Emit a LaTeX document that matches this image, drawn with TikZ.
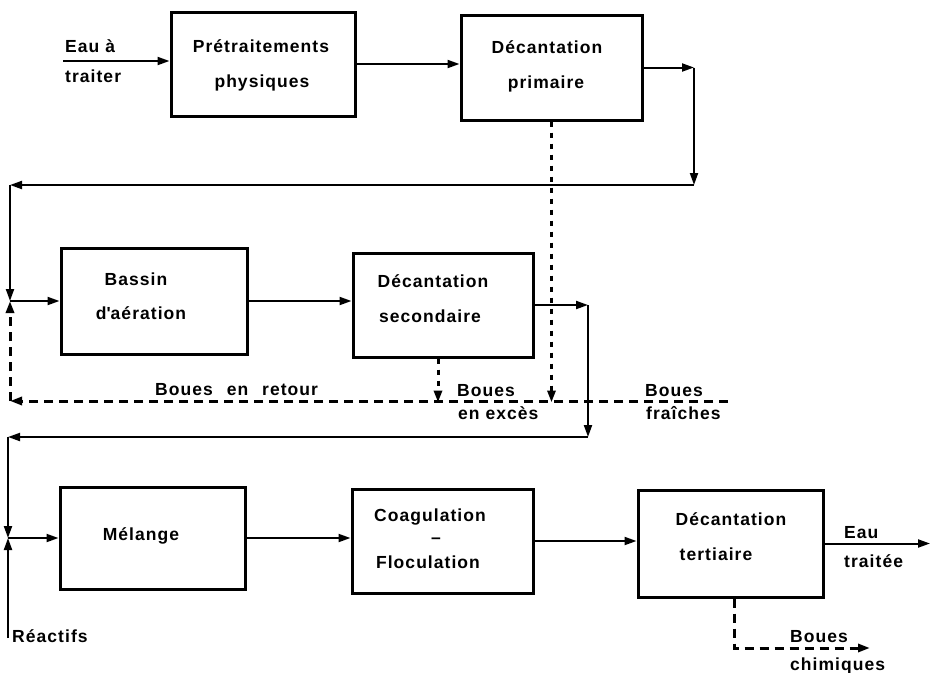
\documentclass[tikz,border=0pt]{standalone}
\usepackage{fontspec}
\setmainfont{Liberation Sans}[LetterSpace=6]
\usetikzlibrary{arrows.meta}
\begin{document}
\begin{tikzpicture}[x=1pt,y=-1pt,
  box/.style={draw,line width=3pt,inner sep=0pt},
  txt/.style={font=\fontsize{17.5}{20}\selectfont\bfseries,inner sep=0pt,anchor=base},
  txtl/.style={txt,anchor=base west},
  tip/.style={-{Triangle[length=12pt,width=8pt]}},
  arr/.style={line width=2pt,tip},
  dsh/.style={line width=3pt,dash pattern=on 9pt off 6pt},
  dsharr/.style={dsh,tip},
  dotarr/.style={line width=3pt,dash pattern=on 5pt off 6pt,tip}]
\useasboundingbox (0,0) rectangle (931,672);
% boxes
\node[box,minimum width=184pt,minimum height=104pt] (B1) at (263,64) {};
\node[box,minimum width=181pt,minimum height=105pt] (B2) at (551.5,67.5) {};
\node[box,minimum width=186pt,minimum height=106pt] (B3) at (154,301) {};
\node[box,minimum width=180pt,minimum height=104pt] (B4) at (443,305) {};
\node[box,minimum width=185pt,minimum height=102pt] (B5) at (152.5,538) {};
\node[box,minimum width=181pt,minimum height=104pt] (B6) at (442.5,541) {};
\node[box,minimum width=185pt,minimum height=107pt] (B7) at (730.5,543.5) {};
% box texts
\node[txt] (p1) at (261,52) {Prétraitements};
\node[txt] (p2) at (262,87) {physiques};
\node[txt] (q1) at (547,53) {Décantation};
\node[txt] (q2) at (546,88) {primaire};
\node[txt] (a1) at (136,285) {Bassin};
\node[txt] (a2) at (141,319) {d\textquotesingle aération};
\node[txt] (s1) at (433,287) {Décantation};
\node[txt] (s2) at (430,322) {secondaire};
\node[txt] (m1) at (141,540) {Mélange};
\node[txt] (k1) at (430,521) {Coagulation};
\node[txt] (k2) at (436,543) {–};
\node[txt] (k3) at (428,568) {Floculation};
\node[txt] (u1) at (731,525) {Décantation};
\node[txt] (u2) at (716,560) {tertiaire};
% free labels
\node[txtl] (t1) at (65,52) {Eau à};
\node[txtl] (t2) at (65,82) {traiter};
\node[txtl] (rt) at (155,395) {Boues\hspace{8pt} en\hspace{8pt} retour};
\node[txtl] (x1) at (457,396) {Boues};
\node[txtl] (x2) at (458,419) {en excès};
\node[txtl] (f1) at (645,396) {Boues};
\node[txtl] (f2) at (646,419) {fraîches};
\node[txtl] (w1) at (844,538) {Eau};
\node[txtl] (w2) at (844,567) {traitée};
\node[txtl] (h1) at (790,642) {Boues};
\node[txtl] (h2) at (790,670) {chimiques};
\node[txtl] (re) at (12,642) {Réactifs};
% coordinates
\coordinate (in1) at (63,61);
\coordinate (c1) at (694,67.5);
\coordinate (c2) at (694,185);
\coordinate (c3) at (10,185);
\coordinate (j1) at (10,301);
\coordinate (d1) at (10,401);
\coordinate (d2) at (728,401);
\coordinate (c4) at (588,305);
\coordinate (c5) at (588,437);
\coordinate (c6) at (8,437);
\coordinate (j2) at (8,538);
\coordinate (r1) at (8,638);
\coordinate (o1) at (930,543.5);
\coordinate (g1) at (734,648);
\coordinate (g2) at (870,648);
% row 1
\draw[arr] (in1) -- (in1 -| B1.west);
\draw[arr] (B1.east) -- (B1.east -| B2.west);
\draw[arr] (B2.east) -- (c1);
\draw[arr] (c1) -- (c2);
\draw[arr] (c2) -- (c3);
\draw[arr] (c3) -- (j1);
% row 2
\draw[arr] (j1) -- (j1 -| B3.west);
\draw[arr] (B3.east) -- (B3.east -| B4.west);
\draw[arr] (B4.east) -- (c4);
\draw[arr] (c4) -- (c5);
\draw[arr] (c5) -- (c6);
\draw[arr] (c6) -- (j2);
% sludge
\draw[dsharr] (d2) -- (d1);
\draw[dsharr] (d1) -- (j1);
\draw[dotarr] (B2.south) -- ([yshift=-1.5pt]B2.south |- d1);
\draw[dotarr] ([xshift=-5pt]B4.south) -- ([xshift=-5pt,yshift=-1.5pt]B4.south |- d1);
% row 3
\draw[arr] (j2) -- (j2 -| B5.west);
\draw[arr] (r1) -- (j2);
\draw[arr] (B5.east) -- (B5.east -| B6.west);
\draw[arr] (B6.east) -- (B6.east -| B7.west);
\draw[arr] (B7.east) -- (o1);
\draw[dsharr] (B7.south -| g1) -- (g1) -- (g2);
\end{tikzpicture}
\end{document}
